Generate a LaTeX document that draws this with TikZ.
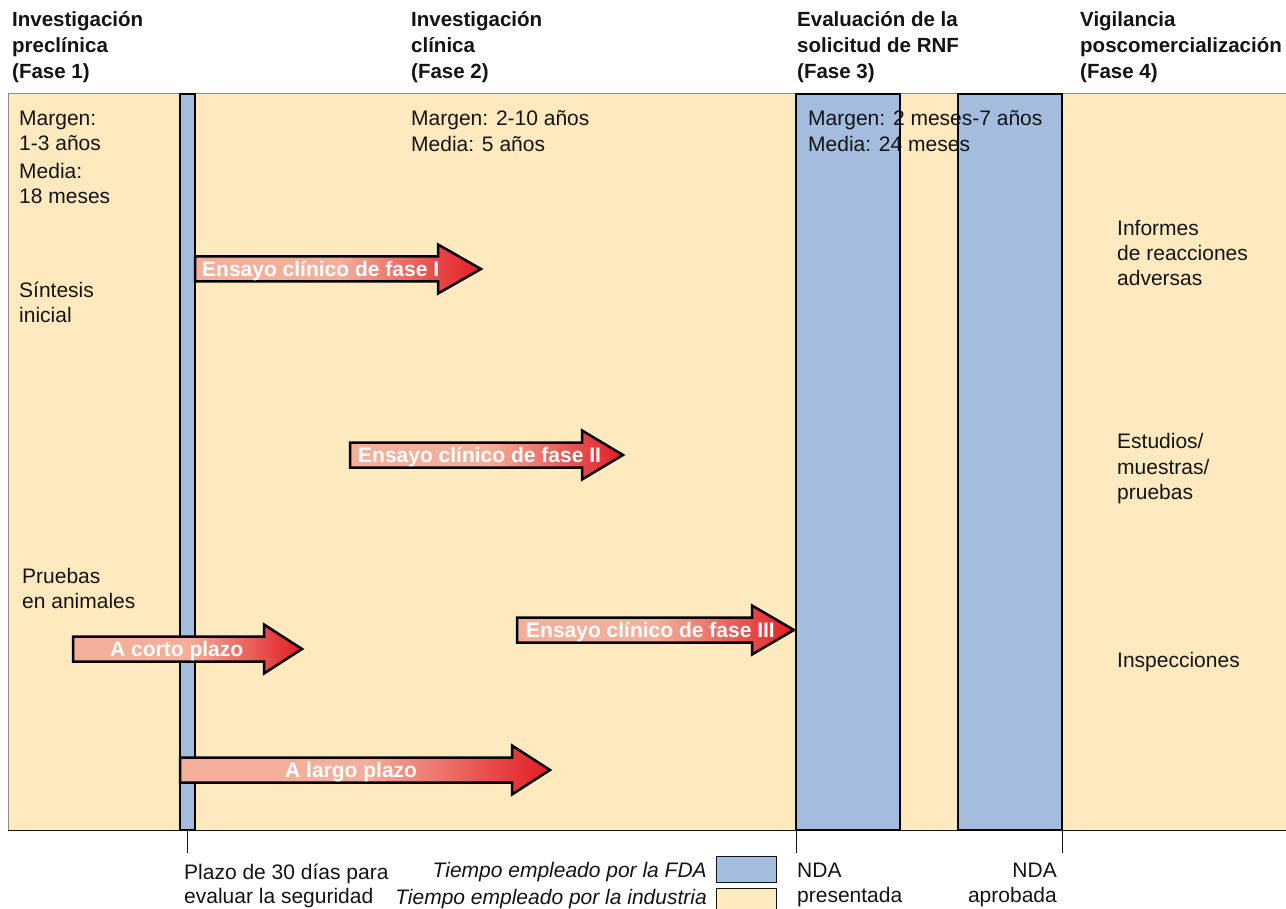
\documentclass[tikz,border=0pt]{standalone}
\usepackage{fontspec}
\setmainfont{Liberation Sans}
\definecolor{beige}{RGB}{255,233,191}
\definecolor{fdablue}{RGB}{164,188,222}
\definecolor{salm}{RGB}{244,175,155}
\definecolor{redd}{RGB}{226,28,36}
\definecolor{ink}{RGB}{20,20,20}
\definecolor{edgegrey}{RGB}{140,140,140}
\pgfdeclarehorizontalshading{arrowgrad}{100bp}{color(0bp)=(salm); color(25bp)=(salm); color(50bp)=(salm); color(75bp)=(redd); color(100bp)=(redd)}
\tikzset{
  lbl/.style={anchor=base west, inner sep=0pt, text=ink, font=\fontsize{21}{25}\selectfont},
  lblr/.style={lbl, anchor=base east},
  lbli/.style={lblr, font=\fontsize{21}{25}\selectfont\itshape},
  hdr/.style={lbl, font=\fontsize{20.5}{25}\selectfont\bfseries},
  bar/.style={fill=fdablue, draw=black, line width=2.5pt},
  arrtxt/.style={anchor=base west, inner sep=0pt, text=white, font=\fontsize{21}{25}\selectfont\bfseries},
  arrbody/.style={shading=arrowgrad, draw=black, line width=2.5pt, line join=miter},
  tickline/.style={draw=ink, line width=1pt},
  legbox/.style={draw=ink, line width=1pt},
}
\newcommand\phasearrow[4]{% x0, xbase, xtip, ycenter
  \shadedraw[arrbody] (#1,#4-12.5) -- (#2,#4-12.5) -- (#2,#4-24.5) -- (#3,#4)
    -- (#2,#4+24.5) -- (#2,#4+12.5) -- (#1,#4+12.5) -- cycle;
}
\begin{document}
\begin{tikzpicture}[x=1pt,y=-1pt]
\clip (0,0) rectangle (1286,909);
\fill[white] (0,0) rectangle (1286,909);

% background (industry time)
\filldraw[fill=beige, draw=edgegrey, line width=1pt] (8,94) rectangle (1295,830);
\draw[ink, line width=1pt] (8,830) -- (1295,830);

% FDA bars
\draw[bar] (180,94) rectangle (195,830);
\draw[bar] (796,94) rectangle (900,830);
\draw[bar] (958,94) rectangle (1062,830);

% headers
\node[hdr] (h1a) at (12,27) {Investigación};
\node[hdr] (h1b) at (12,53) {preclínica};
\node[hdr] (h1c) at (12,79) {(Fase 1)};
\node[hdr] (h2a) at (411,27) {Investigación};
\node[hdr] (h2b) at (411,53) {clínica};
\node[hdr] (h2c) at (411,79) {(Fase 2)};
\node[hdr] (h3a) at (797,27) {Evaluación de la};
\node[hdr] (h3b) at (797,53) {solicitud de RNF};
\node[hdr] (h3c) at (797,79) {(Fase 3)};
\node[hdr] (h4a) at (1080,27) {Vigilancia};
\node[hdr] (h4b) at (1080,53) {poscomercialización};
\node[hdr] (h4c) at (1080,79) {(Fase 4)};

% phase 1 texts
\node[lbl] (m1a) at (19,126) {Margen:};
\node[lbl] (m1b) at (19,151) {1-3 años};
\node[lbl] (m1c) at (19,179) {Media:};
\node[lbl] (m1d) at (19,204) {18 meses};
\node[lbl] (sa) at (19,298) {Síntesis};
\node[lbl] (sb) at (19,323) {inicial};
\node[lbl] (pa) at (22,583) {Pruebas};
\node[lbl] (pb) at (22,608) {en animales};

% phase 2 texts
\node[lbl] (m2a) at (411,126) {Margen: 2-10 años};
\node[lbl] (m2b) at (411,152) {Media: 5 años};

% phase 3 texts
\node[lbl] (m3a) at (808,126) {Margen: 2 meses-7 años};
\node[lbl] (m3b) at (808,152) {Media: 24 meses};

% phase 4 texts
\node[lbl] (ia) at (1117,236) {Informes};
\node[lbl] (ib) at (1117,261) {de reacciones};
\node[lbl] (ic) at (1117,286) {adversas};
\node[lbl] (ea) at (1117,449) {Estudios/};
\node[lbl] (eb) at (1117,474) {muestras/};
\node[lbl] (ec) at (1117,499) {pruebas};
\node[lbl] (insp) at (1117,667) {Inspecciones};

% arrows
\phasearrow{195}{438}{481}{269}
\node[arrtxt] (f1) at (202,276.5) {Ensayo clínico de fase I};
\phasearrow{350}{582}{623}{455}
\node[arrtxt] (f2) at (358,462.5) {Ensayo clínico de fase II};
\phasearrow{517}{752}{794}{630}
\node[arrtxt] (f3) at (526,637.5) {Ensayo clínico de fase III};
\phasearrow{73}{264}{302}{649}
\node[arrtxt] (corto) at (110,656.5) {A corto plazo};
\phasearrow{180}{512}{550}{770}
\node[arrtxt] (largo) at (285,777.5) {A largo plazo};

% ticks below
\coordinate (t1a) at (187,830); \coordinate (t1b) at (187,853);
\coordinate (t2a) at (796,830); \coordinate (t2b) at (796,853);
\coordinate (t3a) at (1062,830); \coordinate (t3b) at (1062,853);
\draw[tickline] (t1a) -- (t1b);
\draw[tickline] (t2a) -- (t2b);
\draw[tickline] (t3a) -- (t3b);

% bottom labels
\node[lbl] (pl1) at (184,879) {Plazo de 30 días para};
\node[lbl] (pl2) at (184,903) {evaluar la seguridad};
\node[lbli] (lg1) at (707,877) {Tiempo empleado por la FDA};
\node[lbli] (lg2) at (707,904) {Tiempo empleado por la industria};
\draw[legbox, fill=fdablue] (716,856) rectangle (776,882);
\draw[legbox, fill=beige] (716,888) rectangle (776,915);
\node[lbl] (nda1) at (797,877) {NDA};
\node[lbl] (nda2) at (797,902) {presentada};
\node[lblr] (nda3) at (1057,877) {NDA};
\node[lblr] (nda4) at (1057,902) {aprobada};
\end{tikzpicture}
\end{document}
